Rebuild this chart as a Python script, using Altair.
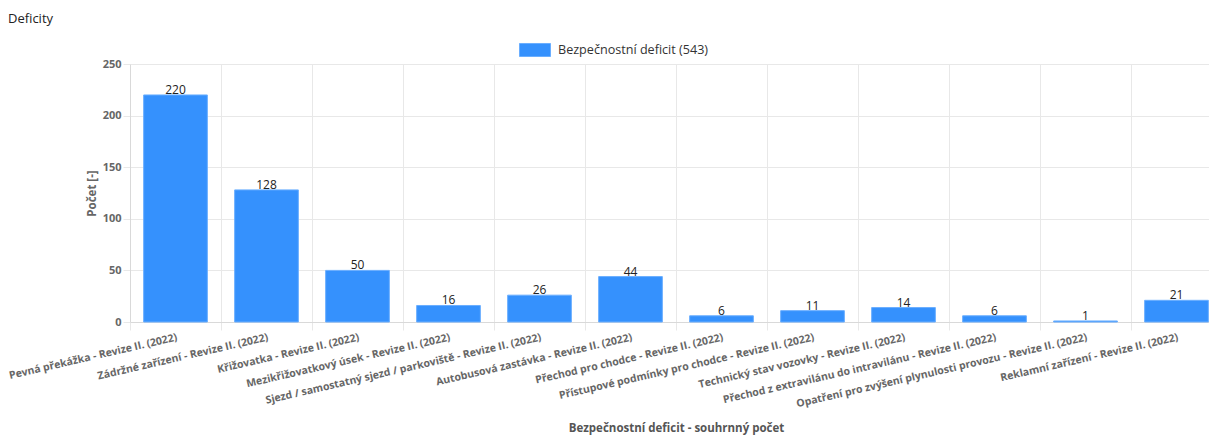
import altair as alt
import pandas as pd

# Deficit categories (review II, 2022) and their counts
categories = [
    "Pevná překážka - Revize II. (2022)",
    "Zádržné zařízení - Revize II. (2022)",
    "Křižovatka - Revize II. (2022)",
    "Mezikřižovatkový úsek - Revize II. (2022)",
    "Sjezd / samostatný sjezd / parkoviště - Revize II. (2022)",
    "Autobusová zastávka - Revize II. (2022)",
    "Přechod pro chodce - Revize II. (2022)",
    "Přístupové podmínky pro chodce - Revize II. (2022)",
    "Technický stav vozovky - Revize II. (2022)",
    "Přechod z extravilánu do intravilánu - Revize II. (2022)",
    "Opatření pro zvýšení plynulosti provozu - Revize II. (2022)",
    "Reklamní zařízení - Revize II. (2022)",
]
counts = [220, 128, 50, 16, 26, 44, 6, 11, 14, 6, 1, 21]
y_ticks = [0, 50, 100, 150, 200, 250]

series_name = f"Bezpečnostní deficit ({sum(counts)})"

df = pd.DataFrame({"kategorie": categories, "pocet": counts, "serie": series_name})

FONT = "Open Sans"
GRID = "#e8e8e8"
BAR = "#3591fd"

x_enc = alt.X(
    "kategorie:N",
    sort=categories,
    scale=alt.Scale(paddingInner=0, paddingOuter=0, range=[0, 1092]),
    axis=alt.Axis(
        title="Bezpečnostní deficit - souhrnný počet",
        labelAngle=-13,
        labelAlign="right",
        labelBaseline="top",
        labelPadding=2,
        tickBand="extent",
        grid=True,
        gridColor=GRID,
        tickColor=GRID,
        tickSize=8,
        domainColor="#d9d9d9",
        labelFont=FONT,
        labelFontSize=10.5,
        labelFontWeight="bold",
        labelColor="#666666",
        labelOverlap=False,
        labelLimit=0,
        titleFont=FONT,
        titleFontSize=11.5,
        titleFontWeight="bold",
        titleColor="#555555",
        titlePadding=13,
    ),
)

y_enc = alt.Y(
    "pocet:Q",
    scale=alt.Scale(domain=[0, 250], nice=False),
    axis=alt.Axis(
        title="Počet [-]",
        values=y_ticks,
        grid=True,
        gridColor=GRID,
        tickColor=GRID,
        tickSize=7,
        labelPadding=2,
        domainColor="#d9d9d9",
        labelFont=FONT,
        labelFontSize=11,
        labelFontWeight="bold",
        labelColor="#666666",
        titleFont=FONT,
        titleFontSize=11.5,
        titleFontWeight="bold",
        titleColor="#666666",
        titlePadding=5,
    ),
)

bars = alt.Chart(df).mark_bar(
    width=alt.RelativeBandSize(0.7),
    stroke="#6aaeff",
    strokeWidth=1,
).encode(
    x=x_enc,
    y=y_enc,
    color=alt.Color(
        "serie:N",
        scale=alt.Scale(range=[BAR]),
        legend=alt.Legend(
            title=None,
            orient="none",
            legendX=389,
            legendY=-30,
            direction="horizontal",
            padding=0,
            symbolType="M-1,-0.42L1,-0.42L1,0.42L-1,0.42Z",
            symbolSize=961,
            symbolStrokeColor="#6aaeff",
            symbolStrokeWidth=1,
            labelOffset=7,
            labelFont=FONT,
            labelFontSize=12.6,
            labelColor="#333333",
            labelLimit=0,
        ),
    ),
)

labels = alt.Chart(df).mark_text(
    baseline="alphabetic", dy=-1, fontSize=12, font=FONT, color="#222222"
).encode(x=alt.X("kategorie:N", sort=categories), y="pocet:Q", text="pocet:Q")

chart = (
    alt.layer(bars, labels)
    .properties(
        width=1079,
        height=258,
        autosize=alt.AutoSizeParams(type="none"),
        padding={"left": 130, "top": 64, "right": 0, "bottom": 114},
        title=alt.Title(
            "Deficity",
            anchor="start",
            frame="group",
            dx=-122,
            offset=8,
            fontSize=13,
            fontWeight="normal",
            font=FONT,
            color="#222222",
        ),
    )
    .configure_view(stroke=None)
)

chart.save("out.html", embed_options={"renderer": "svg", "actions": False})
